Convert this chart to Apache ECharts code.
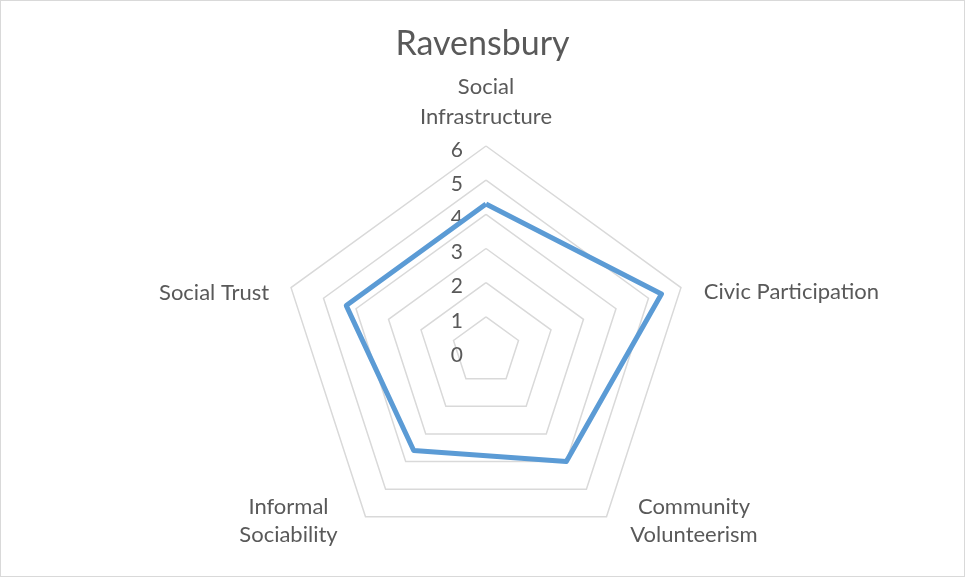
<!DOCTYPE html>
<html>
<head>
<meta charset="utf-8">
<script src="https://cdn.jsdelivr.net/npm/echarts@6/dist/echarts.min.js"></script>
<style>
html,body{margin:0;padding:0;background:#fff;}
#main{width:963px;height:575px;border:1px solid #d9d9d9;}
</style>
</head>
<body>
<div id="main"></div>
<script>
// categories in clockwise order starting from the top
var indicatorNames = ["Social\nInfrastructure", "Civic Participation", "Community\nVolunteerism", "Informal\nSociability", "Social Trust"];
var scoreValues = [4.3, 5.4, 4.0, 3.6, 4.3];
var maxValue = 6;

var textColor = "#595959";
var fontName = "Lato, 'Open Sans', sans-serif";

// name placement per axis (clockwise order), excel style
var nameStyles = [
    {gap: 14, style: {align: 'center', verticalAlign: 'bottom'}},
    {gap: 24, style: {align: 'left', verticalAlign: 'top', lineHeight: 24}},
    {gap: 40, style: {align: 'center', verticalAlign: 'bottom', lineHeight: 28, padding: [0, 0, 0, 128]}},
    {gap: 40, style: {align: 'center', verticalAlign: 'bottom', lineHeight: 28, padding: [0, 107, 0, 0]}},
    {gap: 23, style: {align: 'right', verticalAlign: 'top', lineHeight: 24}}
];

// echarts radar goes counterclockwise, so keep first and reverse the rest
var order = [0];
for (var k = indicatorNames.length - 1; k > 0; k--) {
    order.push(k);
}

var indicators = [];
var values = [];
for (var j = 0; j < order.length; j++) {
    var i = order[j];
    var ind = {
        name: indicatorNames[i],
        min: 0,
        max: maxValue,
        nameGap: nameStyles[i].gap,
        nameTextStyle: nameStyles[i].style
    };
    if (i == 0) {
        // tick labels only on the first axis
        ind.axisLabel = {show: true};
    }
    indicators.push(ind);
    values.push(scoreValues[i]);
}

var myChart = echarts.init(document.getElementById('main'));
var option = {
    animation: false,
    title: {
        text: 'Ravensbury',
        left: 'center',
        top: 21,
        textStyle: {color: textColor, fontSize: 34, fontWeight: 'normal', fontFamily: fontName}
    },
    radar: {
        center: [485, 350],
        radius: 205,
        startAngle: 90,
        splitNumber: 6,
        shape: 'polygon',
        indicator: indicators,
        axisName: {color: textColor, fontSize: 22, fontFamily: fontName, lineHeight: 30},
        nameGap: 18,
        axisLine: {show: false},
        axisTick: {show: false},
        axisLabel: {show: false, color: textColor, fontSize: 21, fontFamily: fontName, margin: 23, verticalAlign: 'top', lineHeight: 8},
        splitLine: {lineStyle: {color: '#d9d9d9', width: 1.5}},
        splitArea: {show: false}
    },
    series: [{
        type: 'radar',
        symbol: 'none',
        lineStyle: {color: '#5b9bd5', width: 5, join: 'round'},
        data: [{value: values, name: 'Ravensbury'}]
    }]
};
myChart.setOption(option);
</script>
</body>
</html>
